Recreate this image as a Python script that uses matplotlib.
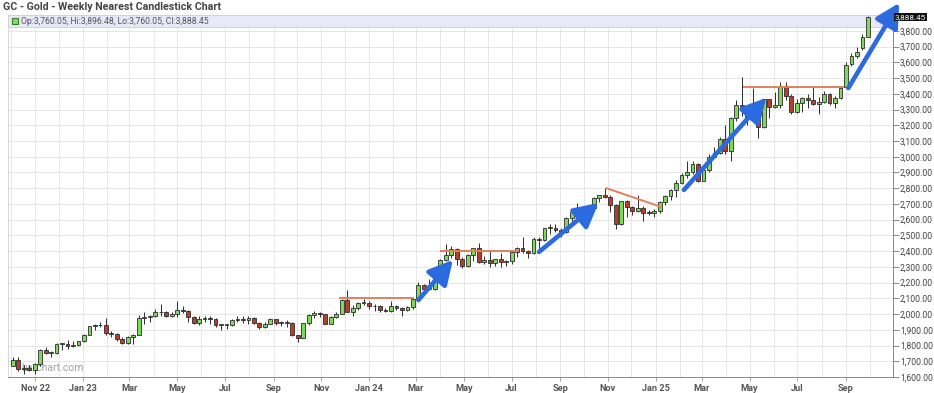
import datetime as dt
import matplotlib
matplotlib.use("Agg")
import matplotlib.pyplot as plt
import matplotlib.dates as mdates
from matplotlib.patches import Rectangle
from matplotlib.ticker import FixedLocator, FuncFormatter

# -------------------------------
# Weekly candles, GC nearest (first week = 2022-10-03)
# -------------------------------
first_week = dt.date(2022, 10, 3)

opens = [
    1672, 1709, 1648, 1657, 1645, 1681, 1771, 1754, 1755, 1809, 1810, 1800, 1804,
    1826, 1869, 1921, 1928, 1929, 1877, 1874, 1842, 1817, 1856, 1868, 1973, 1983,
    1986, 2011, 2015, 1990, 1999, 2025, 2019, 1981, 1944, 1969, 1977, 1971, 1929,
    1929, 1932, 1960, 1966, 1960, 1976, 1946, 1916, 1940, 1966, 1942, 1945, 1945,
    1866, 1845, 1941, 1994, 2006, 1999, 1937, 1984, 2003, 2089, 2014, 2037, 2069,
    2071, 2049, 2051, 2029, 2018, 2054, 2038, 2024, 2045, 2096, 2185, 2161, 2159,
    2238, 2345, 2374, 2413, 2347, 2308, 2375, 2419, 2334, 2345, 2325, 2349, 2332,
    2339, 2397, 2421, 2399, 2386, 2480, 2472, 2546, 2546, 2536, 2524, 2611, 2647,
    2668, 2667, 2676, 2736, 2756, 2746, 2694, 2570, 2716, 2681, 2657, 2675, 2645, 2641,
    2654, 2715, 2748, 2790, 2835, 2887, 2900, 2953, 2848, 2913, 3001, 3024, 3114,
    3036, 3245, 3328, 3299, 3247, 3336, 3187, 3365, 3315, 3331, 3452, 3385, 3287,
    3342, 3373, 3358, 3337, 3350, 3398, 3340, 3375, 3444, 3590, 3640, 3690, 3760.05,
]
highs = [
    1730, 1730, 1674, 1676, 1686, 1775, 1790, 1765, 1815, 1815, 1833, 1832, 1830,
    1872, 1925, 1940, 1950, 1975, 1895, 1880, 1855, 1860, 1872, 1993, 2015, 1995,
    2035, 2063, 2020, 2010, 2085, 2050, 2025, 1985, 1985, 1985, 1985, 1975, 1935,
    1940, 1967, 1990, 1990, 1985, 1980, 1950, 1948, 1975, 1970, 1953, 1960, 1950,
    1870, 1945, 2000, 2020, 2015, 2000, 1990, 2010, 2095, 2152, 2055, 2075, 2098,
    2080, 2065, 2060, 2040, 2080, 2060, 2045, 2050, 2100, 2203, 2190, 2225, 2240,
    2350, 2448, 2431, 2420, 2360, 2385, 2422, 2454, 2370, 2400, 2350, 2388, 2345,
    2400, 2425, 2490, 2410, 2490, 2490, 2550, 2570, 2570, 2545, 2615, 2650, 2708,
    2685, 2680, 2742, 2760, 2801, 2760, 2700, 2720, 2725, 2690, 2760, 2690, 2660, 2670,
    2720, 2755, 2795, 2855, 2895, 2970, 2975, 2960, 2935, 3017, 3065, 3125, 3200,
    3250, 3360, 3509, 3330, 3440, 3340, 3370, 3370, 3410, 3475, 3475, 3400, 3365,
    3380, 3400, 3450, 3380, 3420, 3405, 3385, 3450, 3600, 3660, 3700, 3780, 3896.48,
]
lows = [
    1668, 1641, 1621, 1635, 1616, 1673, 1745, 1730, 1745, 1770, 1780, 1790, 1797,
    1824, 1867, 1900, 1916, 1870, 1855, 1830, 1810, 1810, 1810, 1865, 1935, 1950,
    1980, 1990, 1980, 1982, 1983, 2005, 1952, 1937, 1932, 1950, 1936, 1920, 1900,
    1902, 1925, 1950, 1945, 1940, 1940, 1903, 1910, 1935, 1930, 1925, 1920, 1860,
    1823, 1845, 1930, 1975, 1980, 1935, 1935, 1975, 2000, 2010, 1985, 2025, 2060,
    2030, 2020, 2010, 2010, 2015, 2025, 1985, 2020, 2035, 2095, 2150, 2150, 2155,
    2235, 2335, 2355, 2310, 2290, 2300, 2340, 2325, 2320, 2300, 2305, 2300, 2305,
    2320, 2360, 2390, 2355, 2380, 2390, 2465, 2510, 2520, 2490, 2515, 2575, 2640,
    2640, 2620, 2660, 2710, 2740, 2650, 2540, 2565, 2620, 2630, 2650, 2590, 2630, 2620,
    2645, 2695, 2725, 2745, 2825, 2865, 2890, 2840, 2845, 2900, 2990, 3015, 3015,
    2970, 3225, 3260, 3200, 3240, 3120, 3180, 3245, 3310, 3310, 3360, 3270, 3280,
    3285, 3310, 3330, 3270, 3340, 3330, 3310, 3365, 3440, 3580, 3630, 3680, 3760.05,
]
closes = [
    1709, 1648, 1657, 1645, 1681, 1771, 1754, 1755, 1809, 1810, 1800, 1804, 1826,
    1869, 1921, 1928, 1929, 1877, 1874, 1842, 1817, 1856, 1868, 1973, 1983, 1986,
    2011, 2015, 1990, 1999, 2025, 2019, 1981, 1944, 1969, 1977, 1971, 1929, 1929,
    1932, 1960, 1966, 1960, 1976, 1946, 1916, 1940, 1966, 1942, 1945, 1945, 1866,
    1845, 1941, 1994, 2006, 1999, 1937, 1984, 2003, 2089, 2014, 2037, 2069, 2071,
    2049, 2051, 2029, 2018, 2054, 2038, 2024, 2045, 2096, 2185, 2161, 2159, 2238,
    2345, 2374, 2413, 2347, 2308, 2375, 2419, 2334, 2345, 2325, 2349, 2332, 2339,
    2397, 2421, 2399, 2386, 2480, 2472, 2546, 2546, 2536, 2524, 2611, 2647, 2668,
    2667, 2676, 2736, 2756, 2746, 2694, 2570, 2716, 2681, 2657, 2675, 2645, 2641, 2654,
    2715, 2748, 2790, 2835, 2887, 2900, 2953, 2848, 2913, 3001, 3024, 3114, 3036,
    3245, 3328, 3299, 3247, 3336, 3187, 3365, 3315, 3331, 3452, 3385, 3287, 3342,
    3373, 3358, 3337, 3350, 3398, 3340, 3375, 3440, 3585, 3640, 3665, 3760, 3888.45,
]

tick_labels = ["Nov 22", "Jan 23", "Mar", "May", "Jul", "Sep",
               "Nov", "Jan 24", "Mar", "May", "Jul", "Sep",
               "Nov", "Jan 25", "Mar", "May", "Jul", "Sep"]
y_ticks = list(range(1600, 3801, 100))

# drawn-on annotations: (start date, start price, end date, end price)
resistance_lines = [
    ("2023-11-23", 2100, "2024-02-27", 2100),
    ("2024-04-01", 2401, "2024-07-11", 2401),
    ("2024-10-29", 2802, "2025-01-08", 2681),
    ("2025-04-22", 3444, "2025-08-29", 3444),
]
trend_arrows = [
    ("2024-03-04", 2089, "2024-04-17", 2344),
    ("2024-08-05", 2395, "2024-10-20", 2706),
    ("2025-02-06", 2789, "2025-05-22", 3374),
    ("2025-09-04", 3437, "2025-11-08", 3978),
]

# -------------------------------
# Figure
# -------------------------------
plt.rcParams["font.family"] = ["Roboto", "DejaVu Sans"]
W, H = 934, 393
fig = plt.figure(figsize=(W / 100, H / 100), dpi=100)
ax = fig.add_axes([8 / W, 16 / H, 885 / W, 362 / H])

weeks = [first_week + dt.timedelta(weeks=i) for i in range(len(closes))]
xs = mdates.date2num(weeks)

up_col, down_col, edge = "#7ed85a", "#b83d2b", "#2d2d2d"
colors = [up_col if c >= o else down_col for o, c in zip(opens, closes)]
bottoms = [min(o, c) for o, c in zip(opens, closes)]
heights = [max(abs(c - o), 5) for o, c in zip(opens, closes)]

ax.vlines(xs, lows, highs, color=edge, lw=0.7, zorder=3)
ax.bar(xs, heights, bottom=bottoms, width=4.9, color=colors,
       edgecolor=edge, linewidth=0.6, zorder=4)

for d0, p0, d1, p1 in resistance_lines:
    ax.plot([mdates.datestr2num(d0), mdates.datestr2num(d1)], [p0, p1],
            color="#e2805a", lw=1.4, zorder=5, solid_capstyle="butt")

for d0, p0, d1, p1 in trend_arrows:
    ax.annotate("", xy=(mdates.datestr2num(d1), p1),
                xytext=(mdates.datestr2num(d0), p0),
                arrowprops=dict(arrowstyle="-|>,head_length=0.9,head_width=0.48",
                                lw=3.3, color="#2c6ae0", mutation_scale=16,
                                shrinkA=0, shrinkB=0),
                annotation_clip=False, zorder=6)

# -------------------------------
# Axes, grid, ticks
# -------------------------------
ax.set_xlim(mdates.date2num(dt.date(2022, 9, 27)), mdates.date2num(dt.date(2025, 10, 31)))
ax.set_ylim(1600, 3901)

tick_dates = [dt.date(2022 + (10 + 2 * i) // 12, (10 + 2 * i) % 12 + 1, 1)
              for i in range(len(tick_labels))]
ax.xaxis.set_major_locator(FixedLocator(mdates.date2num(tick_dates)))
ax.set_xticklabels(tick_labels)
ax.xaxis.set_minor_locator(mdates.MonthLocator())
ax.yaxis.tick_right()
ax.yaxis.set_major_locator(FixedLocator(y_ticks))
ax.yaxis.set_major_formatter(FuncFormatter(lambda v, p: f"{v:,.2f}"))

ax.grid(True, which="major", axis="y", color="#e3e3e3", lw=0.6, zorder=0)
ax.grid(True, which="both", axis="x", color="#e3e3e3", lw=0.6, zorder=0)
ax.set_axisbelow(True)

ax.tick_params(axis="y", which="major", direction="out", length=4, width=0.6,
               color="#777", labelsize=6.2, labelcolor="#444", pad=1)
ax.tick_params(axis="x", which="major", direction="out", length=3, width=0.6,
               color="#999", labelsize=6.6, labelcolor="#555", pad=2)
ax.tick_params(axis="x", which="minor", length=0)
for lbl in ax.get_xticklabels():
    lbl.set_fontweight("bold")

for side in ["left", "top"]:
    ax.spines[side].set_color("#d0d0d0")
    ax.spines[side].set_linewidth(0.6)
for side in ["right", "bottom"]:
    ax.spines[side].set_color("#888")
    ax.spines[side].set_linewidth(0.7)

# header band with the last bar values
band_h = 12 / 362
ax.add_patch(Rectangle((0, 1 - band_h), 1, band_h, transform=ax.transAxes,
                       facecolor="#e8e8f8", edgecolor="none", zorder=2))
ax.plot([0, 1], [1 - band_h, 1 - band_h], transform=ax.transAxes,
        color="#c9c9e4", lw=0.6, zorder=2)
ax.plot([7 / 885], [1 - 6 / 362], transform=ax.transAxes, marker="s", ms=4.2,
        mfc="#8ad86a", mec="#3a7d2c", mew=0.8, clip_on=False, zorder=7)
ax.text(13 / 885, 1 - 6 / 362,
        f"Op:{opens[-1]:,.2f}, Hi:{highs[-1]:,.2f}, Lo:{lows[-1]:,.2f}, Cl:{closes[-1]:,.2f}",
        transform=ax.transAxes, fontsize=6.2, color="#555", va="center", zorder=7)

# last price flag on the right axis
ax.text(1 + 2 / 885, closes[-1], f"{closes[-1]:,.2f}", transform=ax.get_yaxis_transform(),
        fontsize=5.8, color="white", va="center", ha="left", zorder=8,
        bbox=dict(boxstyle="square,pad=0.15", fc="#111", ec="none"))

# watermark behind the candles
ax.text(13 / 885, 9 / 362, "barchart.com", transform=ax.transAxes, fontsize=7.5,
        color="#a0a0a0", va="center", zorder=1)

fig.text(3 / W, 1 - 7 / H, "GC - Gold - Weekly Nearest Candlestick Chart",
         fontsize=7.7, fontweight="bold", color="#444", va="center")

fig.savefig("out.png", dpi=100, facecolor="white")
